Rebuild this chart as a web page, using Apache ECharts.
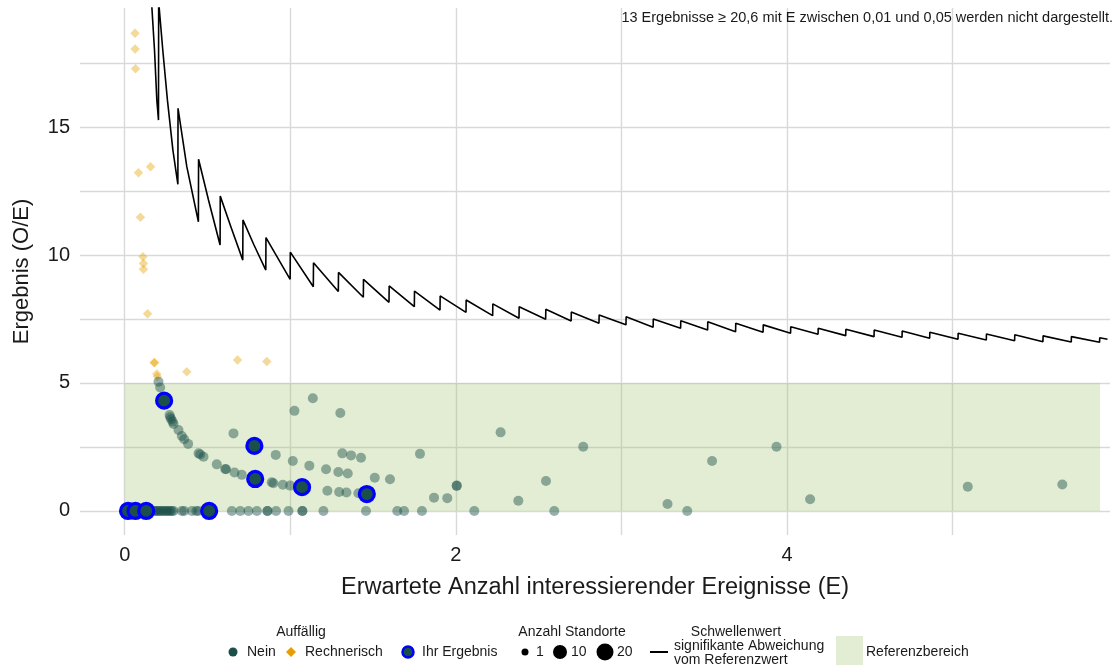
<!DOCTYPE html>
<html>
<head>
<meta charset="utf-8">
<script src="https://cdn.jsdelivr.net/npm/echarts@6.0.0/dist/echarts.min.js"></script>
<style>
html,body{margin:0;padding:0;background:#fff;}
#chart{width:1115px;height:670px;}
</style>
</head>
<body>
<div id="chart"></div>
<script>
// ---- data ----
var xGridValues = [0, 1, 2, 3, 4, 5];
var xLabelValues = [0, 2, 4];
var yGridValues = [0, 2.5, 5, 7.5, 10, 12.5, 15, 17.5];
var yLabelValues = [0, 5, 10, 15];

var refX = [0, 5.89];
var refY = [0, 5];

var nein = [
  [0.204,5.05],[0.214,4.82],
  [0.271,3.75],[0.275,3.66],[0.281,3.58],[0.289,3.49],[0.295,3.40],[0.325,3.16],[0.345,2.93],[0.359,2.80],
  [0.383,2.62],[0.446,2.25],[0.456,2.21],[0.476,2.12],[0.556,1.82],[0.607,1.64],[0.612,1.63],[0.663,1.50],
  [0.707,1.41],[0.888,1.12],[0.898,1.08],[0.955,1.02],[0.999,0.99],
  [0.657,3.03],[0.912,2.19],[1.015,1.95],[1.115,1.77],[1.025,3.91],[1.136,4.40],[1.302,3.83],[1.216,1.63],
  [1.290,1.52],[1.347,1.46],[1.314,2.25],[1.367,2.17],[1.427,2.08],[1.224,0.79],[1.295,0.74],[1.339,0.72],
  [1.411,0.69],[1.510,1.30],[1.602,1.24],[1.783,2.23],[1.868,0.52],[1.948,0.50],[2.005,0.98],[2.005,0.99],
  [2.270,3.07],[2.769,2.51],[2.544,1.17],[2.377,0.40],[3.547,1.95],[3.936,2.51],[3.278,0.27],[4.139,0.46],
  [5.091,0.95],[5.662,1.03],
  [0.174,0],[0.185,0],[0.194,0],[0.204,0],[0.214,0],[0.224,0],[0.234,0],[0.245,0],[0.255,0],[0.265,0],
  [0.275,0],[0.285,0],[0.295,0],[0.345,0],[0.359,0],[0.406,0],[0.432,0],[0.445,0],[0.647,0],[0.698,0],
  [0.747,0],[0.798,0],[0.862,0],[0.862,0],[0.914,0],[0.989,0],[1.073,0],[1.073,0],[1.200,0],[1.457,0],
  [1.646,0],[1.687,0],[1.795,0],[2.111,0],[2.594,0],[3.397,0]
];

var rechnerisch = [
  [0.062,18.66],[0.063,18.05],[0.065,17.28],[0.083,13.21],[0.156,13.45],[0.095,11.47],[0.110,9.93],
  [0.113,9.67],[0.113,9.44],[0.138,7.70],[0.178,5.79],[0.180,5.80],[0.194,5.35],[0.197,5.25],
  [0.375,5.44],[0.681,5.90],[0.858,5.84]
];

var ihrErgebnis = [
  [0.02,0],[0.065,0],[0.13,0],[0.51,0],[0.238,4.31],[0.783,2.54],[0.788,1.25],[1.071,0.93],[1.462,0.66]
];

var threshold = [
  [0.160,20.1],[0.180,18.0],[0.194,16.05],[0.204,15.27],
  [0.205,19.9],[0.230,18.0],[0.258,16.05],[0.291,14.1],[0.321,12.76],
  [0.322,15.73],[0.375,13.45],[0.445,11.30],
  [0.446,13.74],[0.506,12.15],[0.576,10.39],
  [0.577,12.30],[0.641,11.10],[0.713,9.80],
  [0.714,11.37],[0.780,10.40],[0.852,9.41],
  [0.853,10.68],[0.999,9.05],
  [1.000,10.11],[1.139,8.76],
  [1.140,9.70],[1.290,8.57],
  [1.291,9.32],[1.441,8.35],
  [1.442,9.05],[1.596,8.15],
  [1.597,8.79],[1.749,7.98],
  [1.750,8.59],[1.904,7.85],
  [1.905,8.40],[2.061,7.76],
  [2.062,8.24],[2.222,7.63],
  [2.223,8.09],[2.381,7.53],
  [2.382,7.98],[2.542,7.49],
  [2.543,7.88],[2.696,7.42],
  [2.697,7.77],[2.864,7.33],
  [2.865,7.66],[3.027,7.27],
  [3.028,7.59],[3.191,7.18],
  [3.192,7.50],[3.357,7.14],
  [3.358,7.43],[3.520,7.07],
  [3.521,7.39],[3.689,7.00],
  [3.690,7.33],[3.855,6.98],
  [3.856,7.27],[4.021,6.94],
  [4.022,7.20],[4.187,6.90],
  [4.188,7.14],[4.354,6.85],
  [4.355,7.10],[4.525,6.81],
  [4.526,7.07],[4.694,6.79],
  [4.695,7.03],[4.861,6.75],
  [4.862,6.98],[5.032,6.71],
  [5.033,6.94],[5.203,6.68],
  [5.204,6.91],[5.374,6.65],
  [5.375,6.88],[5.545,6.61],
  [5.546,6.84],[5.716,6.60],
  [5.717,6.81],[5.887,6.59],
  [5.888,6.77],[5.935,6.71]
];

var noteText = '13 Ergebnisse \u2265 20,6 mit E zwischen 0,01 und 0,05 werden nicht dargestellt.';

// ---- chart ----
var FONT = '"Liberation Sans", Arial, Helvetica, sans-serif';
var GREEN = '#1b4f4a';
var chart = echarts.init(document.getElementById('chart'), null, {renderer: 'canvas'});

function txt(x, y, s, align, size) {
  return {type: 'text', x: x, y: y, silent: true, z: 100,
    style: {text: s, fill: '#1a1a1a', font: (size || 14) + 'px ' + FONT, align: align || 'left', verticalAlign: 'middle'}};
}

var option = {
  animation: false,
  backgroundColor: '#ffffff',
  grid: {left: 80, right: 5, top: 8, bottom: 135, containLabel: false},
  xAxis: {
    type: 'value', min: -0.27, max: 5.95,
    name: 'Erwartete Anzahl interessierender Ereignisse (E)',
    nameLocation: 'middle', nameGap: 41,
    nameTextStyle: {fontFamily: FONT, fontSize: 23.5, color: '#1a1a1a'},
    axisLine: {show: false},
    axisTick: {show: false, customValues: xGridValues},
    axisLabel: {customValues: xLabelValues, fontFamily: FONT, fontSize: 20, color: '#1a1a1a', margin: 10},
    splitLine: {show: true, lineStyle: {color: '#d9d9d9', width: 1.4}}
  },
  yAxis: {
    type: 'value', min: -0.94, max: 19.65,
    name: 'Ergebnis (O/E)',
    nameLocation: 'middle', nameGap: 47, nameRotate: 90,
    nameTextStyle: {fontFamily: FONT, fontSize: 22, color: '#1a1a1a'},
    axisLine: {show: false},
    axisTick: {show: false, customValues: yGridValues},
    axisLabel: {customValues: yLabelValues, fontFamily: FONT, fontSize: 20, color: '#1a1a1a', margin: 10},
    splitLine: {show: true, lineStyle: {color: '#d9d9d9', width: 1.4}}
  },
  series: [
    {
      name: 'Referenzbereich', type: 'line', data: [], silent: true, z: 1,
      markArea: {
        silent: true,
        itemStyle: {color: 'rgba(162,195,112,0.3)'},
        data: [[{xAxis: refX[0], yAxis: refY[0]}, {xAxis: refX[1], yAxis: refY[1]}]]
      }
    },
    {
      name: 'Schwellenwert', type: 'line', data: threshold, showSymbol: false, symbol: 'none',
      lineStyle: {color: '#000000', width: 1.6}, clip: true, silent: true, z: 3
    },
    {
      name: 'Rechnerisch', type: 'scatter', data: rechnerisch, symbol: 'diamond', symbolSize: 9.5,
      itemStyle: {color: '#e69f00', opacity: 0.4}, silent: true, z: 4
    },
    {
      name: 'Nein', type: 'scatter', data: nein, symbol: 'circle', symbolSize: 10,
      itemStyle: {color: GREEN, opacity: 0.45}, silent: true, z: 5
    },
    {
      name: 'Ihr Ergebnis', type: 'scatter', data: ihrErgebnis, symbol: 'circle', symbolSize: 15,
      itemStyle: {color: GREEN, borderColor: '#0000ff', borderWidth: 3.2, opacity: 1}, silent: true, z: 6
    }
  ],
  graphic: [
    {type: 'text', right: 2, top: 10, silent: true, z: 100,
      style: {text: noteText, fill: '#1a1a1a', font: '14.5px ' + FONT, align: 'right'}},
    txt(301, 632, 'Auffällig', 'center'),
    {type: 'circle', shape: {cx: 233, cy: 652, r: 4.5}, style: {fill: GREEN}, silent: true, z: 100},
    txt(247, 652, 'Nein'),
    {type: 'polygon', shape: {points: [[291, 647], [296, 652], [291, 657], [286, 652]]}, style: {fill: '#e69f00'}, silent: true, z: 100},
    txt(305, 652, 'Rechnerisch'),
    {type: 'circle', shape: {cx: 408, cy: 652, r: 5.5}, style: {fill: GREEN, stroke: '#0000ff', lineWidth: 2.5}, silent: true, z: 100},
    txt(422, 652, 'Ihr Ergebnis'),
    txt(572, 632, 'Anzahl Standorte', 'center'),
    {type: 'circle', shape: {cx: 525, cy: 652, r: 3.5}, style: {fill: '#000'}, silent: true, z: 100},
    txt(536, 652, '1'),
    {type: 'circle', shape: {cx: 560, cy: 652, r: 7}, style: {fill: '#000'}, silent: true, z: 100},
    txt(571, 652, '10'),
    {type: 'circle', shape: {cx: 605, cy: 652, r: 8.5}, style: {fill: '#000'}, silent: true, z: 100},
    txt(617, 652, '20'),
    {type: 'line', shape: {x1: 650, y1: 652, x2: 668, y2: 652}, style: {stroke: '#000', lineWidth: 2}, silent: true, z: 100},
    txt(736, 632, 'Schwellenwert', 'center'),
    txt(674, 646, 'signifikante Abweichung'),
    txt(674, 660, 'vom Referenzwert'),
    {type: 'rect', shape: {x: 836, y: 636, width: 27, height: 29}, style: {fill: '#e3edd4'}, silent: true, z: 100},
    txt(866, 652, 'Referenzbereich')
  ]
};
chart.setOption(option);
</script>
</body>
</html>
